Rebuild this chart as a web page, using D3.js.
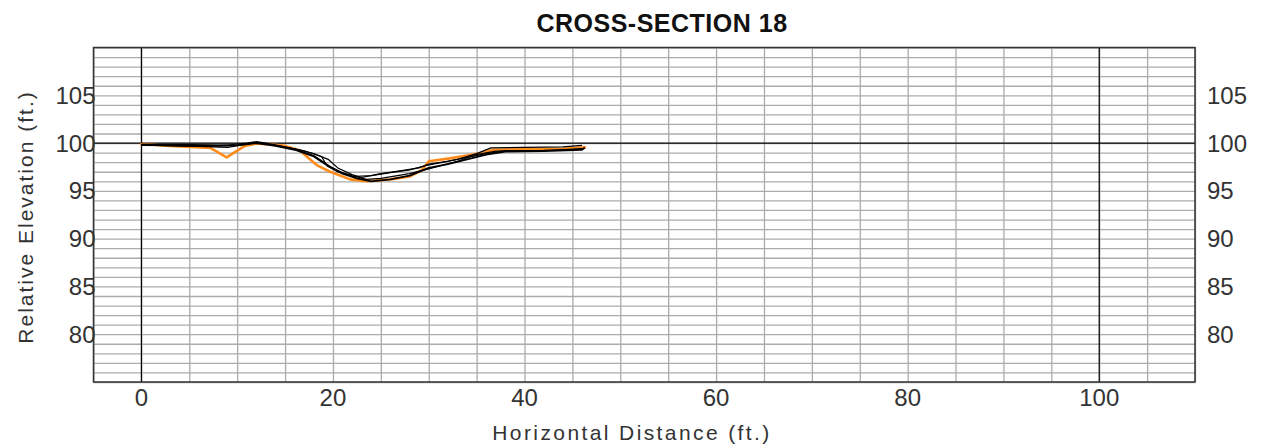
<!DOCTYPE html>
<html>
<head>
<meta charset="utf-8">
<script src="https://cdn.jsdelivr.net/npm/d3@7/dist/d3.min.js"></script>
<style>
  html, body { margin: 0; padding: 0; background: #fff; }
  svg { display: block; }
  .tick-label { font-family: "Liberation Sans", Arial, sans-serif; font-size: 24px; fill: #333; }
  .axis-title { font-family: "Liberation Sans", Arial, sans-serif; font-size: 21px; fill: #333; letter-spacing: 2.4px; }
  .axis-title.vertical { letter-spacing: 2px; }
  .chart-title { font-family: "Liberation Sans", Arial, sans-serif; font-size: 25px; font-weight: bold; fill: #111; letter-spacing: 0.5px; }
</style>
</head>
<body>
<svg id="chart" width="1261" height="448"></svg>
<script>
// Axis ranges and tick labels
const xDomain = [-5, 110];
const yDomain = [75, 110];
const xLabelTicks = [0, 20, 40, 60, 80, 100];
const yLabelTicks = [80, 85, 90, 95, 100, 105];

// Surveyed cross-section profiles: [station (ft), elevation (ft)]
const surveyA = [[0,99.9],[2,99.85],[5,99.85],[9,99.8],[11,100.0],[12,100.15],[13,100.0],[15,99.6],[17,99.2],[18.8,98.6],[19.4,97.6],[20.5,97.0],[22,96.5],[24,96.6],[26,96.9],[28,97.2],[29.5,97.6],[31,97.9],[33,98.3],[35,98.9],[36.5,99.5],[40,99.55],[44,99.6],[46,99.75]];
const surveyB = [[0,99.8],[3,99.7],[6,99.65],[9,99.55],[10.5,99.8],[12,100.05],[14,99.75],[16,99.4],[18,98.9],[19.5,98.3],[20.5,97.4],[22,96.7],[23,96.4],[25,96.8],[27,97.1],[29,97.4],[30,97.8],[32,98.1],[34,98.5],[36,98.9],[38,99.2],[42,99.25],[46,99.4]];
const surveyC = [[0,99.8],[4,99.75],[8,99.7],[10,99.75],[12,100.0],[14,99.7],[16,99.3],[18,98.6],[19.5,97.6],[21,96.8],[22.5,96.3],[24,96.0],[26,96.2],[28,96.6],[30,97.4],[32,97.8],[34,98.3],[36,98.8],[38,99.1],[42,99.15],[46,99.3],[46.3,99.5]];
const surveyD = [[0,99.85],[3,99.75],[7,99.7],[10,99.8],[12,100.05],[14,99.75],[16,99.35],[18,98.7],[19.8,97.5],[21,96.9],[22,96.6],[23.5,96.2],[25,96.3],[28,96.8],[30,97.3],[33,98.1],[35,98.8],[37,99.15],[40,99.2],[44,99.25],[46.2,99.45]];
const surveyLatest = [[0,99.9],[3,99.7],[7.2,99.5],[8.9,98.5],[10.8,99.7],[12,99.95],[14.8,99.75],[16.5,99.25],[18.3,97.7],[19.7,97.0],[21.8,96.2],[23.5,96.0],[26,96.2],[28,96.5],[29.3,97.2],[30,98.1],[32.2,98.4],[34,98.7],[35.7,99.0],[36.7,99.3],[40,99.35],[44,99.4],[46.3,99.55]];
const blackSurveys = [surveyA, surveyB, surveyC, surveyD];

const svg = d3.select("#chart");
const margin = { left: 93.5, top: 47.5, right: 66, bottom: 66 };
const W = 1261, H = 448;
const innerW = W - margin.left - margin.right;
const innerH = H - margin.top - margin.bottom;

const x = d3.scaleLinear().domain(xDomain).range([0, innerW]);
const y = d3.scaleLinear().domain(yDomain).range([innerH, 0]);

const g = svg.append("g").attr("transform", `translate(${margin.left},${margin.top})`);

// Gridlines: every 5 ft horizontally, every 1 ft vertically
const xGrid = g.append("g").attr("transform", `translate(0,${innerH})`)
  .call(d3.axisBottom(x).tickValues(d3.range(-5, 111, 5)).tickSize(-innerH).tickFormat(""));
const yGrid = g.append("g")
  .call(d3.axisLeft(y).tickValues(d3.range(75, 111, 1)).tickSize(-innerW).tickFormat(""));
[xGrid, yGrid].forEach(sel => {
  sel.select(".domain").remove();
  sel.selectAll(".tick line").attr("stroke", "#ababab").attr("stroke-width", 1.3);
});

// Reference lines at station 0, station 100 and elevation 100
g.selectAll(".ref-x").data([0, 100]).join("line")
  .attr("x1", d => x(d)).attr("x2", d => x(d)).attr("y1", 0).attr("y2", innerH)
  .attr("stroke", "#000").attr("stroke-width", 1.2);
g.append("line")
  .attr("x1", 0).attr("x2", innerW).attr("y1", y(100)).attr("y2", y(100))
  .attr("stroke", "#000").attr("stroke-width", 1.2);

// Frame
g.append("rect").attr("x", 0).attr("y", 0).attr("width", innerW).attr("height", innerH)
  .attr("fill", "none").attr("stroke", "#333").attr("stroke-width", 1.5);

const line = d3.line().x(d => x(d[0])).y(d => y(d[1])).curve(d3.curveLinear);

// Latest survey in orange, older surveys in black on top
g.append("path").datum(surveyLatest).attr("d", line)
  .attr("fill", "none").attr("stroke", "#ff8c1a").attr("stroke-width", 2.6)
  .attr("stroke-linejoin", "round").attr("stroke-linecap", "round");
g.selectAll(".survey").data(blackSurveys).join("path")
  .attr("class", "survey").attr("d", line)
  .attr("fill", "none").attr("stroke", "#000")
  .attr("stroke-width", (d, i) => i === 2 ? 1.8 : 1.2)
  .attr("stroke-linejoin", "round");

// Tick labels
g.selectAll(".xl").data(xLabelTicks).join("text")
  .attr("class", "tick-label").attr("x", d => x(d)).attr("y", innerH + 24)
  .attr("text-anchor", "middle").text(d => d);
g.selectAll(".yl").data(yLabelTicks).join("text")
  .attr("class", "tick-label").attr("x", 2).attr("y", d => y(d) + 8.5)
  .attr("text-anchor", "end").text(d => d);
g.selectAll(".yr").data(yLabelTicks).join("text")
  .attr("class", "tick-label").attr("x", innerW + 12).attr("y", d => y(d) + 8.5)
  .attr("text-anchor", "start").text(d => d);

// Titles
svg.append("text").attr("class", "chart-title")
  .attr("x", 662).attr("y", 32).attr("text-anchor", "middle").text("CROSS-SECTION 18");
svg.append("text").attr("class", "axis-title")
  .attr("x", 632).attr("y", 440).attr("text-anchor", "middle").text("Horizontal Distance (ft.)");
svg.append("text").attr("class", "axis-title vertical")
  .attr("transform", "translate(33,217) rotate(-90)").attr("text-anchor", "middle")
  .text("Relative Elevation (ft.)");
</script>
</body>
</html>
